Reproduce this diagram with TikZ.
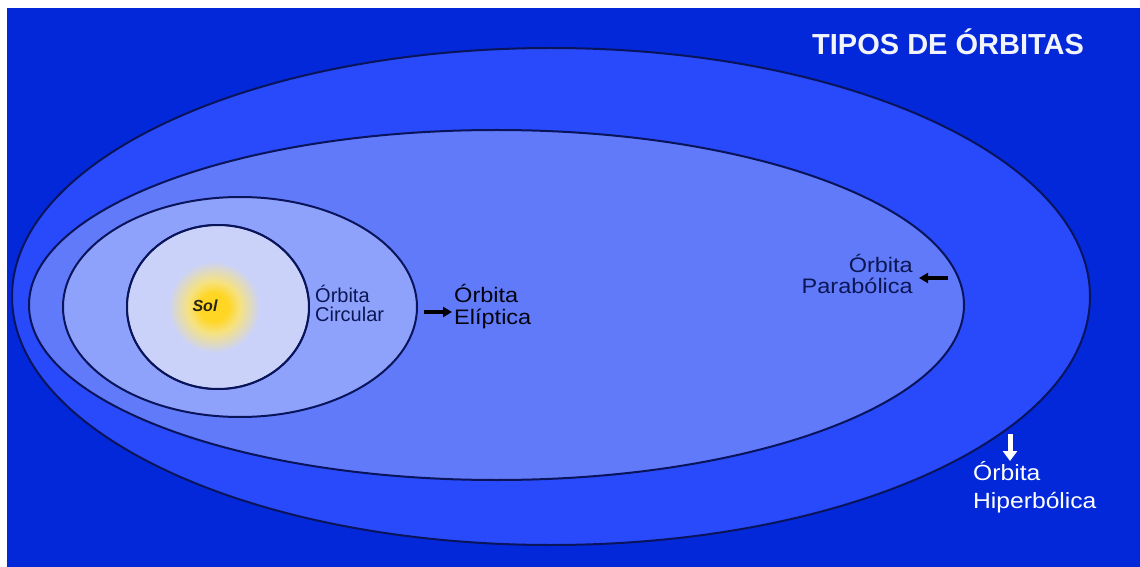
\documentclass[tikz,border=0pt]{standalone}
\usepackage{fontspec}
\setmainfont{Liberation Sans}
\newfontfamily\widesans[FakeStretch=1.12]{Liberation Sans}
\usetikzlibrary{arrows.meta}

\definecolor{spacebg}{RGB}{2,40,218}
\definecolor{hypfill}{RGB}{40,74,250}
\definecolor{parfill}{RGB}{96,122,250}
\definecolor{elifill}{RGB}{142,162,252}
\definecolor{circfill}{RGB}{202,210,250}
\definecolor{orbitline}{RGB}{10,20,90}
\definecolor{labeldark}{RGB}{12,22,85}
\definecolor{sunc}{RGB}{255,214,36}
\definecolor{sunmid}{RGB}{246,226,128}
\definecolor{soltext}{RGB}{40,36,22}

% sun glow: 25bp of the shading spans the radius (100) of the shaded circle
\pgfdeclareradialshading{sunglow}{\pgfpoint{0bp}{0bp}}{%
  color(0bp)=(sunc); color(3.5bp)=(sunc); color(6.5bp)=(sunmid);
  color(11.5bp)=(circfill); color(50bp)=(circfill)}

\tikzset{
  orbit/.style={draw=orbitline, line width=2bp},
  lbl/.style={inner sep=0pt, text=labeldark, font=\fontsize{20bp}{20bp}\selectfont},
  widelbl/.style={inner sep=0pt, text=labeldark, font=\fontsize{21bp}{21bp}\selectfont\widesans},
  blackarrow/.style={line width=3.5bp, black, -{Triangle[length=9bp,width=10bp]}},
  whitearrow/.style={line width=5bp, white, -{Triangle[length=10bp,width=14bp]}}
}

\begin{document}
\begin{tikzpicture}[x=1bp,y=-1bp]
\useasboundingbox (0,0) rectangle (1140,567);
\fill[white] (0,0) rectangle (1140,567);
\fill[spacebg] (7,8) rectangle (1140,567);

% nested orbits, outermost first
\draw[orbit, fill=hypfill] (551,296.5) ellipse [x radius=539, y radius=248.5];
\draw[orbit, fill=parfill] (496.5,305) ellipse [x radius=467.5, y radius=175];
\draw[orbit, fill=elifill] (240,307) ellipse [x radius=177, y radius=110];
\draw[orbit, fill=circfill] (218,307) ellipse [x radius=91, y radius=82];

% glow of the sun, kept inside the circular orbit
\begin{scope}
  \clip (218,307) ellipse [x radius=90, y radius=81];
  \shade[shading=sunglow] (214,307) circle (100);
\end{scope}
\draw[orbitline, line width=2bp] (218,307) ellipse [x radius=91, y radius=82];

% labels
\node[anchor=base west, inner sep=0pt, text={rgb,255:red,242;green,244;blue,252},
      font=\fontsize{29bp}{29bp}\selectfont\bfseries] (title) at (812,55) {TIPOS DE ÓRBITAS};
\node[anchor=base, inner sep=0pt, text=soltext,
      font=\fontsize{16bp}{16bp}\selectfont\bfseries\itshape] (sol) at (205,312) {Sol};

\node[lbl, anchor=base west] (circA) at (315,303) {Órbita};
\node[lbl, anchor=base west] (circB) at (315,322) {Circular};

\node[widelbl, anchor=base west, text=black!85!labeldark] (eliA) at (454,303) {Órbita};
\node[widelbl, anchor=base west, text=black!85!labeldark] (eliB) at (454,325) {Elíptica};

\node[widelbl, anchor=base east] (parA) at (913,273) {Órbita};
\node[widelbl, anchor=base east] (parB) at (913,294) {Parabólica};

\node[widelbl, anchor=base west, text=white, font=\fontsize{22bp}{22bp}\selectfont\widesans] (hypA) at (973,480) {Órbita};
\node[widelbl, anchor=base west, text=white, font=\fontsize{22bp}{22bp}\selectfont\widesans] (hypB) at (973,508) {Hiperbólica};

% pointers
\coordinate (eliTail) at (424,312);
\coordinate (eliHead) at (452,312);
\draw[blackarrow] (eliTail) -- (eliHead);

\coordinate (parTail) at (948,278);
\coordinate (parHead) at (919,278);
\draw[blackarrow] (parTail) -- (parHead);

\coordinate (hypTail) at (1010,434);
\coordinate (hypHead) at (1010,461);
\draw[whitearrow] (hypTail) -- (hypHead);
\end{tikzpicture}
\end{document}
